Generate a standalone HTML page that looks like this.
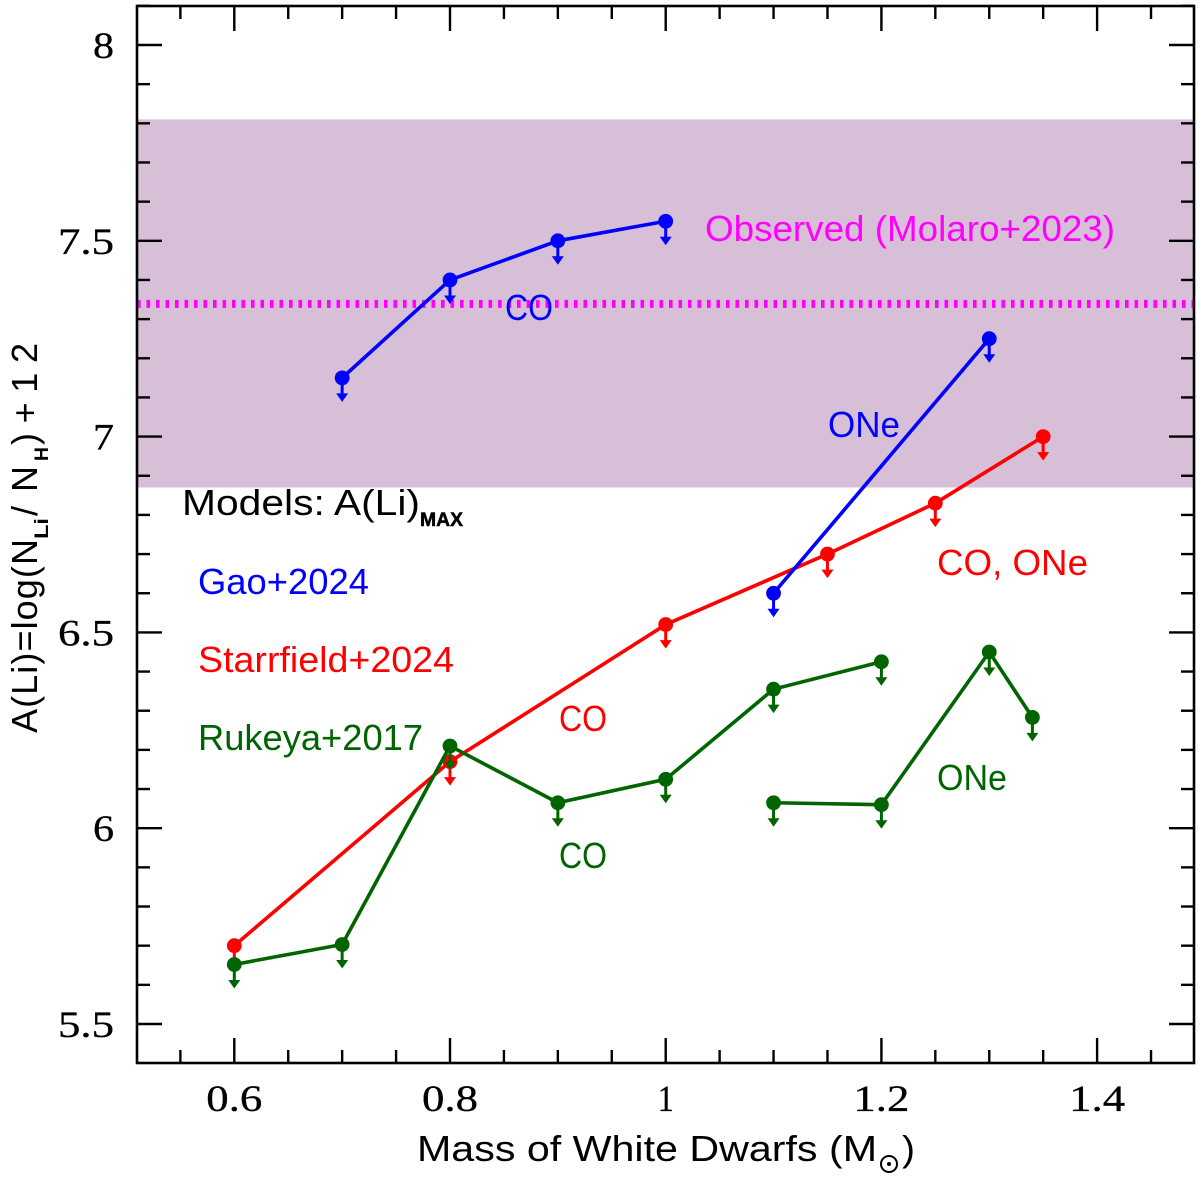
<!DOCTYPE html>
<html lang="en">
<head>
<meta charset="utf-8">
<title>Lithium abundance versus white dwarf mass</title>
<style>
html,body{margin:0;padding:0;background:#fff;width:1200px;height:1179px;overflow:hidden}
svg{display:block;filter:blur(.35px)}
text{font-family:"Liberation Sans","DejaVu Sans",sans-serif}
.num{font-family:"Liberation Serif","DejaVu Serif",serif;font-size:37px;fill:#000;stroke:#000;stroke-width:.3}
</style>
</head>
<body>
<svg id="chart" xmlns="http://www.w3.org/2000/svg" width="1200" height="1179" viewBox="0 0 1200 1179">
  <rect x="0" y="0" width="1200" height="1179" fill="#fff"/>
  <g id="bands"></g>
  <g id="series"></g>
  <g id="axes"></g>

  <g fill="#000">
    <text transform="translate(37,733) rotate(-90)" font-size="36" textLength="194" lengthAdjust="spacing">A(Li)=log(N</text>
    <text transform="translate(48,539) rotate(-90)" font-size="19" font-weight="bold" textLength="21" lengthAdjust="spacingAndGlyphs">Li</text>
    <text transform="translate(37,516) rotate(-90)" font-size="36" textLength="50" lengthAdjust="spacing">/N</text>
    <text transform="translate(48,461) rotate(-90)" font-size="19" font-weight="bold" textLength="14" lengthAdjust="spacingAndGlyphs">H</text>
    <text transform="translate(37,445) rotate(-90)" font-size="36" textLength="102" lengthAdjust="spacing">)+12</text>
  </g>

  <g fill="#000">
    <text x="417" y="1161" font-size="36" textLength="460" lengthAdjust="spacingAndGlyphs">Mass of White Dwarfs (M</text>
    <circle cx="889" cy="1164" r="8" fill="none" stroke="#000" stroke-width="2"/>
    <circle cx="889" cy="1164" r="2" fill="#000"/>
    <text x="902" y="1161" font-size="36" textLength="13" lengthAdjust="spacingAndGlyphs">)</text>
  </g>

  <g fill="#000">
    <text x="182" y="515" font-size="36" textLength="238" lengthAdjust="spacingAndGlyphs">Models:  A(Li)</text>
    <text x="420" y="526" font-size="19" font-weight="bold" stroke="#000" stroke-width=".5" textLength="43" lengthAdjust="spacingAndGlyphs">MAX</text>
  </g>
  <text x="198" y="594" font-size="36" fill="#0000ff" textLength="171" lengthAdjust="spacingAndGlyphs">Gao+2024</text>
  <text x="198" y="672" font-size="36" fill="#ff0000" textLength="256" lengthAdjust="spacingAndGlyphs">Starrfield+2024</text>
  <text x="198" y="750" font-size="36" fill="#006400" textLength="225" lengthAdjust="spacingAndGlyphs">Rukeya+2017</text>
  <text x="705" y="241" font-size="36" fill="#ff00ff" textLength="410" lengthAdjust="spacingAndGlyphs">Observed (Molaro+2023)</text>
  <text x="505" y="320" font-size="36" fill="#0000ff" textLength="48" lengthAdjust="spacingAndGlyphs">CO</text>
  <text x="828" y="437" font-size="36" fill="#0000ff" textLength="72" lengthAdjust="spacingAndGlyphs">ONe</text>
  <text x="937" y="575" font-size="36" fill="#ff0000" textLength="151" lengthAdjust="spacingAndGlyphs">CO, ONe</text>
  <text x="559" y="731" font-size="36" fill="#ff0000" textLength="48" lengthAdjust="spacingAndGlyphs">CO</text>
  <text x="559" y="868" font-size="36" fill="#006400" textLength="48" lengthAdjust="spacingAndGlyphs">CO</text>
  <text x="937" y="790" font-size="36" fill="#006400" textLength="70" lengthAdjust="spacingAndGlyphs">ONe</text>
</svg>

<script>
// Chart data
const xTickValues = [0.6, 0.8, 1, 1.2, 1.4];
const xTickLabels = ['0.6', '0.8', '1', '1.2', '1.4'];
const xMinorValues = [0.55, 0.65, 0.7, 0.75, 0.85, 0.9, 0.95, 1.05, 1.1, 1.15, 1.25, 1.3, 1.35, 1.45];
const yTickValues = [5.5, 6, 6.5, 7, 7.5, 8];
const yTickLabels = ['5.5', '6', '6.5', '7', '7.5', '8'];
const yMinorValues = [5.6, 5.7, 5.8, 5.9, 6.1, 6.2, 6.3, 6.4, 6.6, 6.7, 6.8, 6.9, 7.1, 7.2, 7.3, 7.4, 7.6, 7.7, 7.8, 7.9, 8.1];

const observedRange = [6.87, 7.81];
const observedValue = 7.34;

const starrfieldMass = [0.6, 0.8, 1.0, 1.15, 1.25, 1.35];
const starrfieldLi = [5.70, 6.17, 6.52, 6.70, 6.83, 7.00];

const gaoCoMass = [0.7, 0.8, 0.9, 1.0];
const gaoCoLi = [7.15, 7.40, 7.50, 7.55];

const gaoOneMass = [1.1, 1.3];
const gaoOneLi = [6.60, 7.25];

const rukeyaCoMass = [0.6, 0.7, 0.8, 0.9, 1.0, 1.1, 1.2];
const rukeyaCoLi = [5.652, 5.703, 6.21, 6.065, 6.125, 6.355, 6.425];

const rukeyaOneMass = [1.1, 1.2, 1.3, 1.34];
const rukeyaOneLi = [6.065, 6.06, 6.45, 6.283];

// Axis functions
const plotLeft = 137, plotRight = 1194, plotTop = 6, plotBottom = 1063;
const xScale = function (v) { return 234.3 + (v - 0.6) * 1078.5; };
const yScale = function (v) { return 45 + (8 - v) * 391.6; };
const NS = 'http://www.w3.org/2000/svg';

function make(parent, tag, attrs) {
  const el = document.createElementNS(NS, tag);
  Object.keys(attrs).forEach(function (k) { el.setAttribute(k, attrs[k]); });
  parent.appendChild(el);
  return el;
}

const bandsLayer = document.getElementById('bands');
const band = make(bandsLayer, 'rect', {
  x: plotLeft, y: yScale(observedRange[1]),
  width: plotRight - plotLeft, height: yScale(observedRange[0]) - yScale(observedRange[1]),
  fill: '#d8bfd8'
});



const observedLine = make(bandsLayer, 'line', {
  x1: plotLeft, x2: plotRight, y1: yScale(observedValue) + 0.4, y2: yScale(observedValue) + 0.4,
  stroke: '#ff00ff', 'stroke-width': 8, 'stroke-dasharray': '3.6 5.9'
});



function drawSeries(name, masses, values, color) {
  const layer = document.getElementById('series');
  const group = make(layer, 'g', {});
  
  

  const pts = masses.map(function (m, i) { return xScale(m) + ',' + yScale(values[i]); }).join(' ');
  const line = make(group, 'polyline', {
    points: pts, fill: 'none', stroke: color, 'stroke-width': 3.6, 'stroke-linejoin': 'round'
  });
  
  

  masses.forEach(function (m, i) {
    const cx = xScale(m), cy = yScale(values[i]);
    const stem = make(group, 'line', {
      x1: cx, x2: cx, y1: cy, y2: cy + 18, stroke: color, 'stroke-width': 3
    });
    
    
    const head = make(group, 'polygon', {
      points: (cx - 6) + ',' + (cy + 15.5) + ' ' + (cx + 6) + ',' + (cy + 15.5) + ' ' + cx + ',' + (cy + 24),
      fill: color
    });
    
    
    const dot = make(group, 'circle', { cx: cx, cy: cy, r: 7.4, fill: color });
    
    
  });
}

drawSeries('starrfield-series', starrfieldMass, starrfieldLi, '#ff0000');
drawSeries('gao-co-series', gaoCoMass, gaoCoLi, '#0000ff');
drawSeries('gao-one-series', gaoOneMass, gaoOneLi, '#0000ff');
drawSeries('rukeya-co-series', rukeyaCoMass, rukeyaCoLi, '#006400');
drawSeries('rukeya-one-series', rukeyaOneMass, rukeyaOneLi, '#006400');

// Ticks and frame
const axesLayer = document.getElementById('axes');
const majorLen = 25, minorLen = 13;

function drawXTick(v, len) {
  const x = xScale(v);
  [[plotBottom, plotBottom - len], [plotTop, plotTop + len]].forEach(function (p) {
    const t = make(axesLayer, 'line', { x1: x, x2: x, y1: p[0], y2: p[1], stroke: '#000', 'stroke-width': 2.4 });
    
    
  });
}
function drawYTick(v, len) {
  const y = yScale(v);
  [[plotLeft, plotLeft + len], [plotRight, plotRight - len]].forEach(function (p) {
    const t = make(axesLayer, 'line', { x1: p[0], x2: p[1], y1: y, y2: y, stroke: '#000', 'stroke-width': 2.4 });
    
    
  });
}

xMinorValues.forEach(function (v) { drawXTick(v, minorLen); });
xTickValues.forEach(function (v) { drawXTick(v, majorLen); });
yMinorValues.forEach(function (v) { drawYTick(v, minorLen); });
yTickValues.forEach(function (v) { drawYTick(v, majorLen); });

xTickValues.forEach(function (v, i) {
  const t = make(axesLayer, 'text', {
    x: xScale(v), y: 1111, 'text-anchor': 'middle', class: 'num',
    textLength: xTickLabels[i].length === 1 ? 16 : 56, lengthAdjust: 'spacingAndGlyphs'
  });
  
  
  t.textContent = xTickLabels[i];
});
yTickValues.forEach(function (v, i) {
  const t = make(axesLayer, 'text', {
    x: 114, y: yScale(v) + 13, 'text-anchor': 'end', class: 'num',
    textLength: yTickLabels[i].length === 1 ? 21 : 56, lengthAdjust: 'spacingAndGlyphs'
  });
  
  
  t.textContent = yTickLabels[i];
});

const frame = make(axesLayer, 'rect', {
  x: plotLeft, y: plotTop, width: plotRight - plotLeft, height: plotBottom - plotTop,
  fill: 'none', stroke: '#000', 'stroke-width': 2.6
});


</script>
</body>
</html>
